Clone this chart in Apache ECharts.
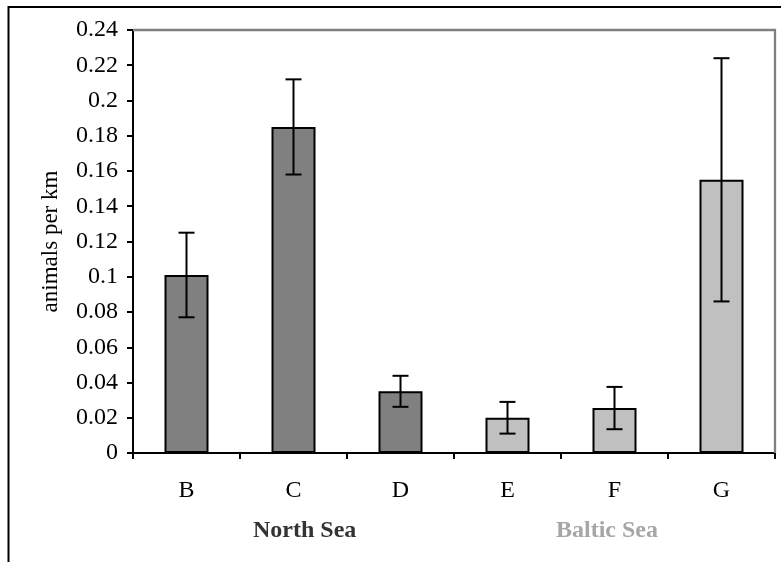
<!DOCTYPE html>
<html>
<head>
<meta charset="utf-8">
<script src="https://cdn.jsdelivr.net/npm/echarts@6/dist/echarts.min.js"></script>
<style>
html,body{margin:0;padding:0;background:#fff;}
#chart{width:781px;height:562px;}
</style>
</head>
<body>
<div id="chart"></div>
<script>
const categories = ['B', 'C', 'D', 'E', 'F', 'G'];
const seaOfCategory = ['North Sea', 'North Sea', 'North Sea', 'Baltic Sea', 'Baltic Sea', 'Baltic Sea'];
const values = [0.101, 0.185, 0.035, 0.020, 0.0255, 0.155];
const errors = [0.024, 0.027, 0.0088, 0.009, 0.012, 0.069];
const seaNames = ['North Sea', 'Baltic Sea'];
const yTicks = { min: 0, max: 0.24, interval: 0.02 };
const yAxisTitle = 'animals per km';

const FONT = '"Liberation Serif", "Times New Roman", serif';
const seaColors = { 'North Sea': '#808080', 'Baltic Sea': '#c0c0c0' };
const seaTextColors = { 'North Sea': '#333333', 'Baltic Sea': '#a6a6a6' };

const chart = echarts.init(document.getElementById('chart'), null, { renderer: 'canvas' });

const grid = { left: 133, top: 30, right: 6, bottom: 109 };

chart.setOption({
  animation: false,
  backgroundColor: '#ffffff',
  grid: Object.assign({ show: false }, grid),
  xAxis: {
    type: 'category',
    data: categories,
    axisLine: { show: true, lineStyle: { color: '#000', width: 2 } },
    axisTick: { show: true, length: 6, lineStyle: { color: '#000', width: 2 } },
    axisLabel: { color: '#000', fontFamily: FONT, fontSize: 24, margin: 26 },
    splitLine: { show: false }
  },
  yAxis: {
    type: 'value',
    min: yTicks.min,
    max: yTicks.max,
    interval: yTicks.interval,
    name: yAxisTitle,
    nameLocation: 'middle',
    nameRotate: 90,
    nameGap: 71,
    nameTextStyle: { color: '#000', fontFamily: FONT, fontSize: 23 },
    axisLine: { show: true, lineStyle: { color: '#000', width: 2 } },
    axisTick: { show: true, length: 6, lineStyle: { color: '#000', width: 2 } },
    axisLabel: {
      color: '#000', fontFamily: FONT, fontSize: 24, margin: 15,
      formatter: v => String(parseFloat(v.toFixed(2)))
    },
    splitLine: { show: false }
  },
  graphic: [
    { type: 'rect', shape: { x: 8.5, y: 7, width: 800, height: 600 }, style: { fill: null, stroke: '#000', lineWidth: 2 }, z: 0 },
    { type: 'polyline', shape: { points: [[133, 30], [775, 30], [775, 453]] }, style: { fill: null, stroke: '#808080', lineWidth: 2.3 }, z: 1 },
    { type: 'text', left: 253, top: 519, style: { text: seaNames[0], fill: seaTextColors[seaNames[0]], font: 'bold 24px ' + FONT } },
    { type: 'text', left: 556, top: 519, style: { text: seaNames[1], fill: seaTextColors[seaNames[1]], font: 'bold 24px ' + FONT } }
  ],
  series: [
    {
      type: 'bar',
      barWidth: 44,
      data: values.map((v, i) => ({
        value: v,
        itemStyle: { color: seaColors[seaOfCategory[i]], borderColor: '#000', borderWidth: 2 }
      })),
      z: 2
    },
    {
      type: 'custom',
      z: 3,
      data: values.map((v, i) => [i, v, errors[i]]),
      renderItem: function (params, api) {
        const i = api.value(0), v = api.value(1), e = api.value(2);
        const top = api.coord([i, v + e]);
        const bot = api.coord([i, v - e]);
        const hw = 8;
        const style = { stroke: '#000', lineWidth: 2 };
        return {
          type: 'group',
          children: [
            { type: 'line', shape: { x1: top[0], y1: top[1], x2: bot[0], y2: bot[1] }, style: style },
            { type: 'line', shape: { x1: top[0] - hw, y1: top[1], x2: top[0] + hw, y2: top[1] }, style: style },
            { type: 'line', shape: { x1: bot[0] - hw, y1: bot[1], x2: bot[0] + hw, y2: bot[1] }, style: style }
          ]
        };
      }
    }
  ]
});
</script>
</body>
</html>
